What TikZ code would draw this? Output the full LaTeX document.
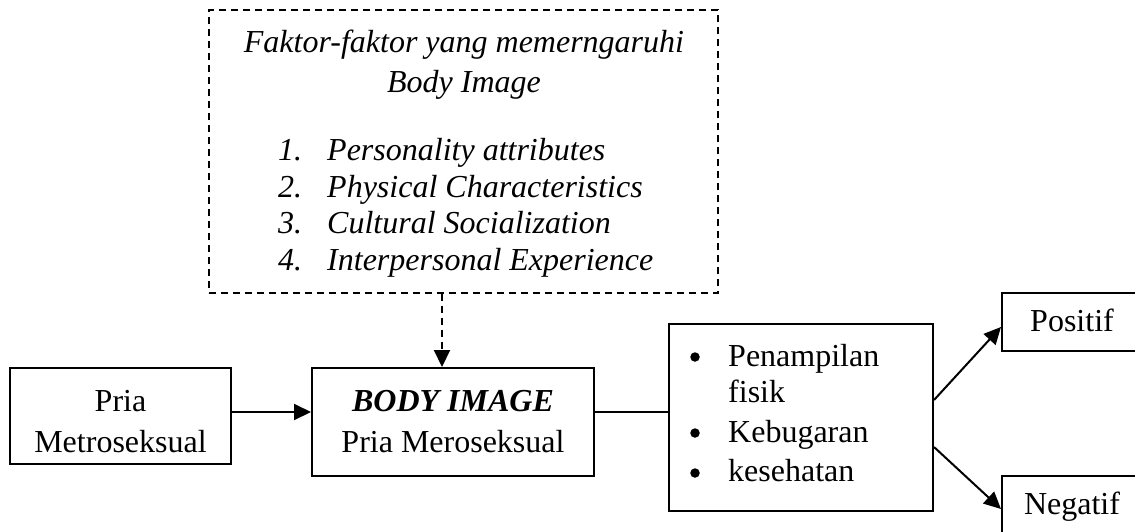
\documentclass[tikz,border=0pt]{standalone}
\usepackage{fontspec}
\setmainfont{Liberation Serif}
\usetikzlibrary{arrows.meta,calc}
\begin{document}
\begin{tikzpicture}[x=1pt,y=-1pt,
  txt/.style={font=\fontsize{32}{37}\selectfont, inner sep=0pt, anchor=base},
  ltxt/.style={txt, anchor=base west},
  box/.style={draw, line width=2pt, inner sep=0pt},
  dbox/.style={box, dash pattern=on 7pt off 5pt},
  dot/.style={circle, fill, inner sep=0pt, minimum size=9.5pt},
  conn/.style={line width=2pt},
  arr/.style={conn, -{Triangle[length=17pt,width=16pt]}}]
\useasboundingbox (0,0) rectangle (1135,531);
\clip (0,0) rectangle (1135,531);
% boxes
\node[dbox, minimum width=509pt, minimum height=283pt] (fak) at (463.5,151.5) {};
\node[box, minimum width=221pt, minimum height=96pt] (pria) at (120.5,416) {};
\node[box, minimum width=282pt, minimum height=108pt] (body) at (453,422) {};
\node[box, minimum width=264pt, minimum height=187pt] (bul) at (801,417.5) {};
\node[box, minimum width=140pt, minimum height=58pt] (pos) at (1072,322) {};
\node[box, minimum width=140pt, minimum height=58pt] (neg) at (1072,505) {};
% texts in dashed box
\node[txt] (f1) at (464,52) {\itshape Faktor-faktor yang memerngaruhi};
\node[txt] (f2) at (464,92) {\itshape Body Image};
\node[ltxt] (n1) at (278,160) {\itshape 1.};
\node[ltxt] (n2) at (278,197) {\itshape 2.};
\node[ltxt] (n3) at (278,233) {\itshape 3.};
\node[ltxt] (n4) at (278,270) {\itshape 4.};
\node[ltxt] (i1) at (327,160) {\itshape Personality attributes};
\node[ltxt] (i2) at (327,197) {\itshape Physical Characteristics};
\node[ltxt] (i3) at (327,233) {\itshape Cultural Socialization};
\node[ltxt] (i4) at (327,270) {\itshape Interpersonal Experience};
% pria
\node[txt] (p1) at (120.5,411) {Pria};
\node[txt] (p2) at (120.5,452) {Metroseksual};
% body image
\node[txt] (b1) at (453,411) {\bfseries\itshape BODY IMAGE};
\node[txt] (b2) at (453,452) {Pria Meroseksual};
% bullets
\node[dot] (d1) at (695,357) {};
\node[dot] (d2) at (695,433) {};
\node[dot] (d3) at (695,473) {};
\node[ltxt] (t1) at (728,366) {Penampilan};
\node[ltxt] (t2) at (728,402) {fisik};
\node[ltxt] (t3) at (728,442) {Kebugaran};
\node[ltxt] (t4) at (728,481) {kesehatan};
% outcomes
\node[txt] (pt) at (1072,331) {Positif};
\node[txt] (nt) at (1072,514) {Negatif};
% connectors
\draw[arr, dash pattern=on 7pt off 5pt] ([xshift=-21.5pt]fak.south) -- ([xshift=-11pt]body.north);
\draw[arr] ([yshift=4pt]pria.east) -- ([yshift=10pt]body.west);
\draw[conn] ([yshift=10pt]body.east) -- ([yshift=5.5pt]bul.west);
\draw[arr] ([yshift=17.5pt]bul.east) -- ([yshift=-5pt]pos.west);
\draw[arr] ([yshift=-29.5pt]bul.east) -- ([yshift=-4pt]neg.west);
\end{tikzpicture}
\end{document}
